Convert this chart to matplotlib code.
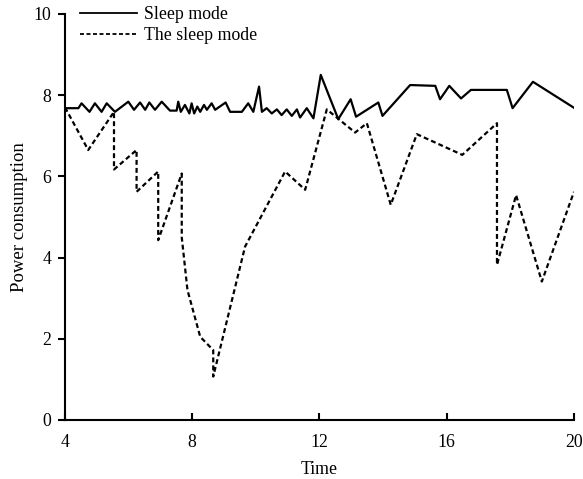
import matplotlib
matplotlib.use("Agg")
import matplotlib.pyplot as plt

plt.rcParams['font.family'] = ['Liberation Serif', 'DejaVu Serif']

# Solid: "Sleep mode"
t_solid = [4.0, 4.42, 4.52, 4.77, 4.94, 5.15, 5.31, 5.57, 5.99, 6.17, 6.36, 6.52, 6.65, 6.83,
           7.04, 7.30, 7.51, 7.56, 7.64, 7.77, 7.91, 7.98, 8.06, 8.16, 8.25, 8.37, 8.46, 8.61,
           8.72, 9.05, 9.19, 9.56, 9.76, 9.92, 10.10, 10.19, 10.34, 10.50, 10.66, 10.81, 10.97,
           11.13, 11.29, 11.39, 11.60, 11.81, 12.04, 12.59, 12.98, 13.15, 13.85, 13.98, 14.85,
           15.64, 15.79, 16.08, 16.45, 16.76, 17.89, 18.07, 18.71, 20.0]
v_solid = [7.68, 7.68, 7.80, 7.59, 7.80, 7.59, 7.80, 7.59, 7.84, 7.64, 7.82, 7.64, 7.82, 7.64,
           7.84, 7.62, 7.62, 7.84, 7.59, 7.76, 7.55, 7.80, 7.55, 7.72, 7.59, 7.76, 7.64, 7.80,
           7.64, 7.82, 7.59, 7.59, 7.80, 7.59, 8.21, 7.59, 7.68, 7.55, 7.65, 7.51, 7.65,
           7.49, 7.65, 7.45, 7.68, 7.43, 8.50, 7.41, 7.90, 7.47, 7.82, 7.49, 8.25,
           8.23, 7.90, 8.23, 7.92, 8.13, 8.13, 7.68, 8.33, 7.69]

# Dashed: "The sleep mode"
t_dash = [4.0, 4.73, 5.54, 5.54, 6.25, 6.25, 6.93, 6.93, 7.67, 7.67, 7.85, 8.25, 8.66, 8.66,
          9.66, 10.92, 11.55, 12.23, 13.12, 13.49, 14.24, 15.06, 16.49, 17.58, 17.58, 18.18,
          18.99, 20.0]
v_dash = [7.70, 6.65, 7.59, 6.17, 6.65, 5.62, 6.12, 4.43, 6.07, 4.50, 3.20, 2.05, 1.72, 1.07,
          4.27, 6.12, 5.67, 7.65, 7.08, 7.31, 5.30, 7.04, 6.53, 7.31, 3.82, 5.54,
          3.41, 5.62]

labels = ["Sleep mode", "The sleep mode"]
xticks = [4, 8, 12, 16, 20]
yticks = [0, 2, 4, 6, 8, 10]

FS = 12.8

fig = plt.figure(figsize=(5.83, 4.79), dpi=100)
ax = fig.add_axes([0.1115, 0.1232, 0.873, 0.8476])

ax.plot(t_solid, v_solid, color='black', lw=1.6, label=labels[0])
ax.plot(t_dash, v_dash, color='black', lw=1.6, linestyle=(0, (2.2, 1.4)), label=labels[1])

ax.set_xlim(4, 20)
ax.set_ylim(0, 10)
ax.set_xticks(xticks)
ax.set_yticks(yticks)
ax.spines['top'].set_visible(False)
ax.spines['right'].set_visible(False)
ax.spines['left'].set_linewidth(1.5)
ax.spines['bottom'].set_linewidth(1.5)
ax.tick_params(axis='x', direction='in', length=5, width=1.5, labelsize=FS, pad=10)
ax.tick_params(axis='y', direction='out', length=5, width=1.5, labelsize=FS, pad=5)
ax.set_xlabel("Time", fontsize=FS, labelpad=7)
ax.set_ylabel("Power consumption", fontsize=13.5, labelpad=4)

leg = ax.legend(loc='upper left', bbox_to_anchor=(0.029, 1.019), frameon=False, fontsize=FS,
                handlelength=3.2, handletextpad=0.4, labelspacing=0.22, borderaxespad=0,
                borderpad=0)
for h in leg.get_lines():
    h.set_linewidth(1.3)

fig.savefig("out.png", dpi=100)
